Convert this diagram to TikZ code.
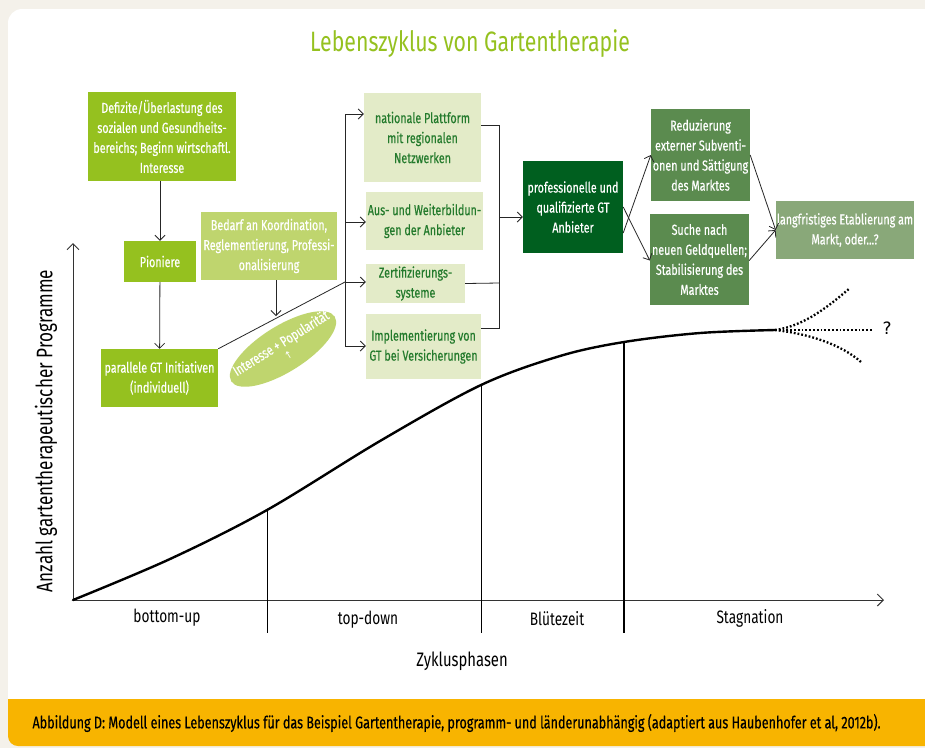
\documentclass[tikz,border=0pt]{standalone}
\usepackage{fontspec}
\setmainfont{Fira Sans}[FakeStretch=0.76]
\newfontfamily\boxfont{Fira Sans}[FakeStretch=0.74, FakeBold=0.4]
\newfontfamily\qfont{DejaVu Sans}
\usetikzlibrary{arrows.meta,calc,shapes.geometric}
\definecolor{bggray}{HTML}{F4F1EA}
\definecolor{lime}{HTML}{95C11F}
\definecolor{limelight}{HTML}{BFD56E}
\definecolor{pale}{HTML}{E3EBC8}
\definecolor{txtgreen}{HTML}{237A2C}
\definecolor{darkgreen}{HTML}{005F1F}
\definecolor{midgreen}{HTML}{5B8B4F}
\definecolor{softgreen}{HTML}{89A879}
\definecolor{capbar}{HTML}{F8B400}
\tikzset{
  box/.style={rectangle, inner sep=1pt, align=center, font=\boxfont\fontsize{14.5}{20}\selectfont},
  limebox/.style={box, fill=lime, text=white},
  lightbox/.style={box, fill=limelight, text=white},
  palebox/.style={box, fill=pale, text=txtgreen},
  darkbox/.style={box, fill=darkgreen, text=white},
  midbox/.style={box, fill=midgreen, text=white},
  softbox/.style={box, fill=softgreen, text=white},
  conn/.style={line width=0.8pt, draw=black!85},
  arr/.style={conn, -{Straight Barb[length=5pt,width=10pt]}},
  axis/.style={line width=1pt, draw=black!80, -{Straight Barb[length=6pt,width=12pt]}},
  phase/.style={font=\fontsize{18}{20}\selectfont},
}
\begin{document}
\begin{tikzpicture}[x=1pt,y=-1pt]
\useasboundingbox (0,0) rectangle (925,748);
\fill[bggray] (0,0) rectangle (925,748);
\fill[white, rounded corners=14pt] (8,9) rectangle (940,720);
\fill[capbar, rounded corners=10pt] (8,699) rectangle (940,746);
\fill[capbar] (8,699) rectangle (30,712);

% title
\node[text=lime, font=\fontsize{28}{30}\selectfont] (title) at (470,44) {Lebenszyklus von Gartentherapie};

% axes
\coordinate (o) at (73,600);
\coordinate (ytop) at (73,243);
\coordinate (xend) at (884,600);
\draw[axis] (o) -- (ytop);
\draw[axis] (o) -- (xend);
\node[rotate=90, font=\fontsize{22.5}{24}\selectfont] (ylab) at (46,431) {Anzahl gartentherapeutischer Programme};

% curve
\draw[line width=2.4pt, line cap=round] plot[smooth, tension=0.55] coordinates {(73,600) (170,559) (267,510) (380,441) (481,385) (560,356) (624,342) (700,333) (775,330)};
\coordinate (fan) at (775,330);
\coordinate (fanup) at (850,288);
\coordinate (fanmid) at (873,330);
\coordinate (fandown) at (861,362);
\draw[line width=2.3pt, dash pattern=on 1.8pt off 2pt] (fan) .. controls (805,326) and (830,305) .. (fanup);
\draw[line width=2.3pt, dash pattern=on 1.8pt off 2pt] (fan) -- (fanmid);
\draw[line width=2.3pt, dash pattern=on 1.8pt off 2pt] (fan) .. controls (810,334) and (842,345) .. (fandown);
\node[font=\qfont\fontsize{17}{19}\selectfont] (q) at (887,328) {?};

% phase dividers
\coordinate (d1t) at (267,510); \coordinate (d1b) at (267,633);
\coordinate (d2t) at (481,385); \coordinate (d2b) at (481,633);
\coordinate (d3t) at (624,342); \coordinate (d3b) at (624,633);
\draw[line width=0.9pt] (d1t) -- (d1b);
\draw[line width=0.9pt] (d2t) -- (d2b);
\draw[line width=1.5pt] (d3t) -- (d3b);
\node[phase] (p1) at (167,618) {bottom-up};
\node[phase] (p2) at (368,620) {top-down};
\node[phase] (p3) at (557,619) {Blütezeit};
\node[phase] (p4) at (750,618) {Stagnation};
\node[font=\fontsize{19.5}{21}\selectfont] (zyk) at (462,661) {Zyklusphasen};

% left boxes
\node[limebox, minimum width=148pt, minimum height=89pt] (def) at (162,136.5) {Defizite/Überlastung des\\sozialen und Gesundheits-\\bereichs; Beginn wirtschaftl.\\Interesse};
\node[limebox, minimum width=72pt, minimum height=41pt] (pion) at (160,261.5) {Pioniere};
\node[limebox, minimum width=117pt, minimum height=58pt] (para) at (159.5,378) {parallele GT Initiativen\\(individuell)};
\node[lightbox, minimum width=136pt, minimum height=68pt] (bedarf) at (269,246) {Bedarf an Koordination,\\Reglementierung, Professi-\\onalisierung};
\node[ellipse, fill=limelight, minimum width=122pt, minimum height=46pt, inner sep=0pt, rotate=32] (ell) at (283,349) {};
\node[rotate=32, text=white, align=center, inner sep=0pt, font=\boxfont\fontsize{14.5}{14}\selectfont] (elltxt) at ([xshift=1pt,yshift=1pt]ell.center) {Interesse + Popularität\\[-1pt]{\qfont\fontsize{10}{10}\selectfont ↑}};

\draw[arr] (def.south -| pion.north) -- (pion.north);
\draw[arr] (pion) -- (para);
\coordinate (bs) at (276,280);
\coordinate (be) at (276,316);
\draw[arr] (bs) -- (be);

% middle boxes
\node[palebox, minimum width=117pt, minimum height=89pt] (nat) at (422.5,137.5) {nationale Plattform\\mit regionalen\\Netzwerken};
\node[palebox, minimum width=117pt, minimum height=58pt] (aus) at (424.5,221) {Aus- und Weiterbildun-\\gen der Anbieter};
\node[palebox, minimum width=99pt, minimum height=39pt] (zert) at (415.5,283.5) {Zertifizierungs-\\systeme};
\node[palebox, minimum width=115pt, minimum height=65pt] (impl) at (423.5,346.5) {Implementierung von\\GT bei Versicherungen};

\coordinate (b1) at (345,114);
\coordinate (b2) at (345,222);
\coordinate (b3) at (345,282);
\coordinate (b4) at (345,346);
\draw[conn] (para.north east) -- (b3);
\draw[conn] (b1) -- (b4);
\draw[arr] (b1) -- (b1 -| nat.west);
\draw[arr] (b2) -- (b2 -| aus.west);
\draw[arr] (b3) -- (b3 -| zert.west);
\draw[arr] (b4) -- (b4 -| impl.west);

% right bracket
\coordinate (r1) at (499,125);
\coordinate (r3) at (499,283);
\coordinate (r4) at (499,328);
\coordinate (rm) at (499,217);
\draw[conn] (r1 -| nat.east) -- (r1) -- (r4) -- (r4 -| impl.east);
\draw[conn] (zert.east) -- (r3);

% right boxes
\node[darkbox, minimum width=100pt, minimum height=92pt] (pro) at (573,207) {professionelle und\\qualifizierte GT\\Anbieter};
\node[midbox, minimum width=99pt, minimum height=92pt] (red) at (700.5,155) {Reduzierung\\externer Subventi-\\onen und Sättigung\\des Marktes};
\node[midbox, minimum width=99pt, minimum height=91pt] (such) at (699.5,259.5) {Suche nach\\neuen Geldquellen;\\Stabilisierung des\\Marktes};
\node[softbox, minimum width=138pt, minimum height=58pt] (lang) at (845,230) {langfristiges Etablierung am\\Markt, oder...?};

\draw[arr] (rm) -- (rm -| pro.west);
\draw[arr] ([yshift=-26pt]pro.east) -- (red.west);
\draw[arr] (pro.east) -- ([yshift=-1pt]such.west);
\draw[arr] (red.east) -- (lang.west);
\draw[arr] ([yshift=-1pt]such.west -| such.east) -- (lang.west);

% caption
\node[anchor=west, font=\boxfont\fontsize{17}{19}\selectfont, text=black] (cap) at (29,723) {Abbildung D: Modell eines Lebenszyklus für das Beispiel Gartentherapie, programm- und länderunabhängig (adaptiert aus Haubenhofer et al, 2012b).};
\end{tikzpicture}
\end{document}
